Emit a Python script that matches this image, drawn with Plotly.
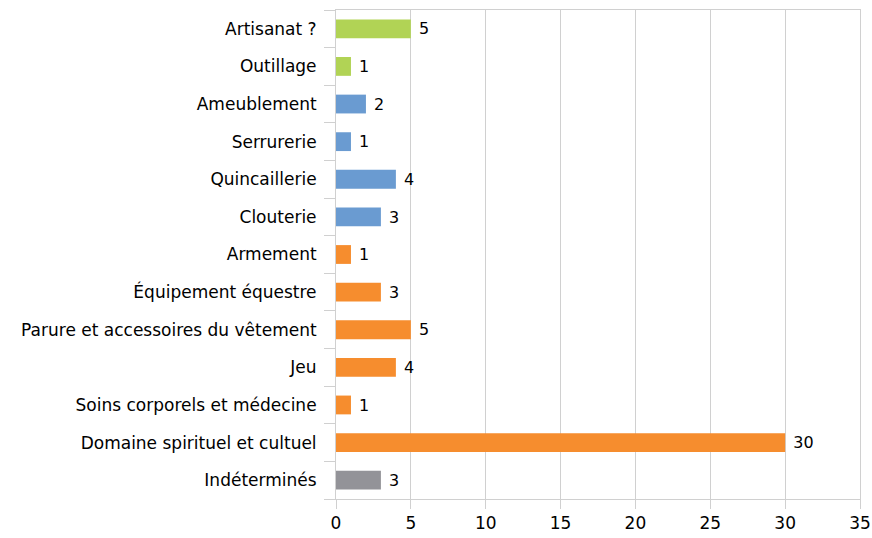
import plotly.graph_objects as go

categories = ["Indéterminés", "Domaine spirituel et cultuel", "Soins corporels et médecine",
              "Jeu", "Parure et accessoires du vêtement", "Équipement équestre", "Armement",
              "Clouterie", "Quincaillerie", "Serrurerie", "Ameublement", "Outillage", "Artisanat ?"]
values = [3, 30, 1, 4, 5, 3, 1, 3, 4, 1, 2, 1, 5]
groups = ["ind", "o", "o", "o", "o", "o", "o", "b", "b", "b", "b", "g", "g"]
palette = {"ind": "#939398", "o": "#F68D2E", "b": "#6A9BD1", "g": "#B1D355"}
x_ticks = [0, 5, 10, 15, 20, 25, 30, 35]

fig = go.Figure(go.Bar(
    y=categories, x=values, orientation="h", width=0.5,
    marker=dict(color=[palette[g] for g in groups], line=dict(width=0)),
    text=[" " + str(v) for v in values], textposition="outside",
    textfont=dict(size=17, color="#000000"), cliponaxis=False,
))

grid = "#D0D0D0"
fig.update_layout(
    width=872, height=538, margin=dict(l=336, r=12, t=10, b=39),
    plot_bgcolor="white", paper_bgcolor="white", showlegend=False,
    font=dict(family="DejaVu Sans", size=17, color="#000000"),
    bargap=0.5,
)
fig.update_xaxes(range=[0, 35], tickvals=x_ticks, showgrid=True, gridcolor=grid, gridwidth=1,
                 showline=True, linecolor=grid, mirror=True, ticks="outside", ticklen=9,
                 tickcolor=grid, zeroline=False, tickfont=dict(size=17), automargin=False,
                 ticklabeloverflow="allow")
fig.update_yaxes(type="category", categoryorder="array", categoryarray=categories,
                 showline=True, linecolor=grid, mirror=True, ticks="outside", ticklen=11,
                 tickcolor=grid, tickson="boundaries", showgrid=False, tickfont=dict(size=17),
                 ticklabelstandoff=15, automargin=False)

fig.write_html("out.html", config={"displayModeBar": False},
               post_script="document.body.style.margin='0';document.body.style.overflow='hidden';")
